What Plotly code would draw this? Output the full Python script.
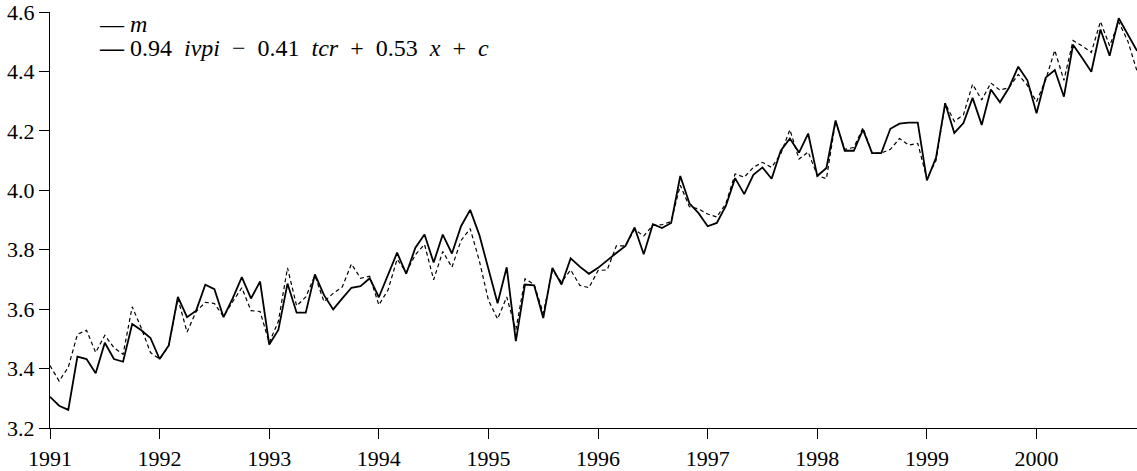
import plotly.graph_objects as go

# monthly observations, Jan 1991 .. Dec 2000
start_year = 1991
n_months = 120

m_values = [
    3.410, 3.358, 3.404, 3.515, 3.529, 3.454, 3.512, 3.470, 3.448, 3.608, 3.536, 3.454,
    3.432, 3.476, 3.636, 3.523, 3.592, 3.623, 3.619, 3.575, 3.625, 3.672, 3.595, 3.592,
    3.487, 3.559, 3.739, 3.611, 3.641, 3.713, 3.625, 3.653, 3.675, 3.752, 3.704, 3.711,
    3.614, 3.664, 3.768, 3.724, 3.783, 3.818, 3.699, 3.794, 3.741, 3.831, 3.871, 3.763,
    3.630, 3.567, 3.641, 3.530, 3.702, 3.683, 3.586, 3.730, 3.691, 3.732, 3.680, 3.672,
    3.730, 3.732, 3.813, 3.813, 3.868, 3.846, 3.882, 3.884, 3.895, 4.017, 3.945, 3.937,
    3.920, 3.910, 3.956, 4.055, 4.044, 4.077, 4.094, 4.077, 4.122, 4.204, 4.105, 4.129,
    4.050, 4.039, 4.232, 4.138, 4.144, 4.210, 4.125, 4.125, 4.138, 4.174, 4.152, 4.158,
    4.039, 4.100, 4.293, 4.232, 4.254, 4.357, 4.304, 4.361, 4.337, 4.346, 4.390, 4.353,
    4.298, 4.372, 4.471, 4.370, 4.504, 4.486, 4.464, 4.568, 4.486, 4.566, 4.502, 4.401,
]

fit_values = [
    3.305, 3.275, 3.261, 3.440, 3.432, 3.384, 3.487, 3.432, 3.423, 3.550, 3.529, 3.503,
    3.432, 3.478, 3.641, 3.573, 3.595, 3.682, 3.667, 3.573, 3.636, 3.708, 3.636, 3.693,
    3.481, 3.530, 3.686, 3.588, 3.588, 3.717, 3.647, 3.599, 3.636, 3.672, 3.677, 3.704,
    3.640, 3.713, 3.790, 3.719, 3.807, 3.851, 3.757, 3.851, 3.787, 3.879, 3.934, 3.850,
    3.730, 3.620, 3.741, 3.492, 3.683, 3.680, 3.570, 3.739, 3.683, 3.771, 3.743, 3.719,
    3.739, 3.765, 3.789, 3.813, 3.875, 3.785, 3.886, 3.873, 3.890, 4.048, 3.956, 3.923,
    3.879, 3.890, 3.948, 4.041, 3.987, 4.052, 4.077, 4.039, 4.133, 4.174, 4.127, 4.191,
    4.048, 4.075, 4.235, 4.133, 4.133, 4.204, 4.125, 4.125, 4.207, 4.224, 4.228, 4.228,
    4.033, 4.110, 4.293, 4.193, 4.226, 4.311, 4.220, 4.339, 4.296, 4.346, 4.416, 4.370,
    4.259, 4.379, 4.405, 4.315, 4.490, 4.445, 4.399, 4.541, 4.453, 4.579, 4.524, 4.469,
]

year_ticks = list(range(1991, 2001))
year_labels = [str(y) for y in year_ticks]
y_ticks = [3.2, 3.4, 3.6, 3.8, 4.0, 4.2, 4.4, 4.6]
y_labels = ["3.2", "3.4", "3.6", "3.8", "4.0", "4.2", "4.4", "4.6"]

months = [start_year + i / 12 for i in range(n_months)]

FONT = "Liberation Serif"

fig = go.Figure()
fig.add_trace(go.Scatter(
    x=months, y=m_values, mode="lines", name="m",
    line=dict(color="black", width=1.2, dash="4px,3px"),
))
fig.add_trace(go.Scatter(
    x=months, y=fit_values, mode="lines", name="fit",
    line=dict(color="black", width=1.8),
))

fig.update_layout(
    width=1137, height=471,
    margin=dict(l=50, r=0, t=10, b=38),
    paper_bgcolor="white", plot_bgcolor="white",
    showlegend=False,
    font=dict(family=FONT, size=22, color="black"),
    xaxis=dict(
        range=[months[0], months[-1]],
        tickvals=year_ticks, ticktext=year_labels,
        showgrid=False, zeroline=False,
        showline=True, linecolor="black", linewidth=1.3,
        ticks="outside", ticklen=10, tickwidth=1, tickcolor="black",
        tickfont=dict(family=FONT, size=22),
        ticklabeloverflow="allow",
    ),
    yaxis=dict(
        range=[3.2, 4.6],
        tickvals=y_ticks, ticktext=y_labels,
        showgrid=False, zeroline=False,
        showline=True, linecolor="black", linewidth=1.3,
        ticks="outside", ticklen=10, tickwidth=1, tickcolor="black",
        tickfont=dict(family=FONT, size=22),
        ticklabeloverflow="allow",
    ),
)

NB = "\u00a0"
fig.add_annotation(
    xref="paper", yref="paper", x=0.043, y=0.972,
    xanchor="left", yanchor="middle", showarrow=False,
    text="—" + NB + "<i>m</i>", font=dict(family=FONT, size=24, color="black"),
)
fig.add_annotation(
    xref="paper", yref="paper", x=0.043, y=0.913,
    xanchor="left", yanchor="middle", showarrow=False,
    text=("<b>—</b>" + NB + "0.94" + NB * 2 + "<i>ivpi</i>" + NB * 2 + "−" + NB * 2
          + "0.41" + NB * 2 + "<i>tcr</i>" + NB * 2 + "+" + NB * 2 + "0.53" + NB * 2
          + "<i>x</i>" + NB * 2 + "+" + NB * 2 + "<i>c</i>"),
    font=dict(family=FONT, size=24, color="black"),
)

fig.write_html("out.html", config={"displayModeBar": False},
               post_script="document.body.style.margin='0';")
